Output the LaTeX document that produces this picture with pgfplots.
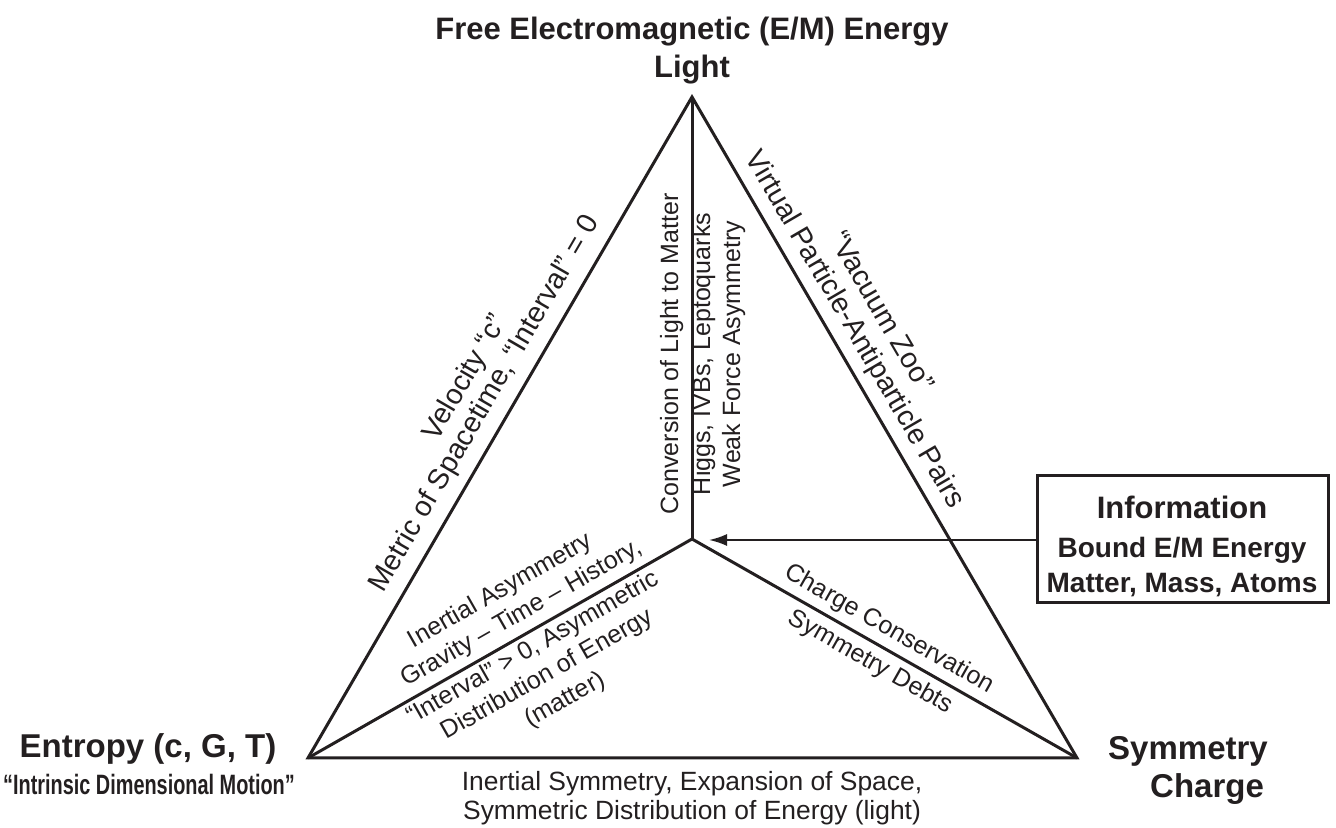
\documentclass[border=0pt]{standalone}
\usepackage{fontspec}
\setmainfont{Liberation Sans}
\usepackage{pgfplots}
\pgfplotsset{compat=1.18}
\usetikzlibrary{arrows.meta}
\definecolor{ink}{HTML}{231F20}
\newcommand{\fs}[1]{\fontsize{#1}{1.2\dimexpr#1\relax}\selectfont}
\begin{document}
\begin{tikzpicture}
\begin{axis}[width=668pt,height=414pt,scale only axis,
  xmin=0,xmax=1336,ymin=0,ymax=828,axis lines=none,ticks=none,clip=false]
% frame extent (invisible)
\addplot[draw=none] coordinates {(0,0) (1336,828)};
% outer triangle
\addplot[ink,line width=1.5pt,line join=miter,mark=none] coordinates {(308,70) (692,731) (1077,70) (308,70) (692,731)};
% inner lines
\addplot[ink,line width=1.5pt,mark=none] coordinates {(692,731) (692,289)};
\addplot[ink,line width=1.5pt,line join=miter,mark=none] coordinates {(308,70) (692,289) (1077,70)};
% box
\addplot[ink,line width=1.5pt,line join=miter,mark=none] coordinates {(1037,225) (1328,225) (1328,352) (1037,352) (1037,225) (1328,225)};
% arrow
\addplot[ink,line width=1pt,mark=none,-{Latex[length=9pt,width=6pt]}] coordinates {(1037,288) (709,288)};

\begin{scope}[every node/.style={text=ink,inner sep=0pt,text height=.75em,text depth=.25em}]
% title
\node[anchor=base,font=\bfseries\fs{15.5pt}] at (axis cs:692,788) {Free Electromagnetic (E/M) Energy};
\node[anchor=base,font=\bfseries\fs{15.5pt}] at (axis cs:692,750) {Light};
% left vertex
\node[anchor=base,font=\bfseries\fs{16.5pt}] at (axis cs:148,70) {Entropy (c, G, T)};
\node[anchor=base,font=\bfseries\fs{14pt}] at (axis cs:149,33) {\addfontfeature{FakeStretch=0.71}“Intrinsic Dimensional Motion”};
% right vertex
\node[anchor=base,font=\bfseries\fs{16.5pt}] at (axis cs:1188,68) {Symmetry};
\node[anchor=base,font=\bfseries\fs{16.5pt}] at (axis cs:1207,30) {Charge};
% box text
\node[anchor=base,font=\bfseries\fs{15.5pt}] at (axis cs:1182,309) {Information};
\node[anchor=base,font=\bfseries\fs{14pt}] at (axis cs:1182,270) {Bound E/M Energy};
\node[anchor=base,font=\bfseries\fs{14pt}] at (axis cs:1182,235) {Matter, Mass, Atoms};
% bottom
\node[anchor=base,font=\fs{13.2pt}] at (axis cs:692,37) {Inertial Symmetry, Expansion of Space,};
\node[anchor=base,font=\fs{13.2pt}] at (axis cs:692,8) {Symmetric Distribution of Energy (light)};
% left edge
\node[rotate=59.84,font=\fs{14.3pt}] at (axis cs:487.4,422.7) {Metric of Spacetime, “Interval” = 0};
\node[rotate=59.84,font=\fs{14.3pt}] at (axis cs:467.9,448.9) {Velocity “c”};
% right edge
\node[rotate=-59.74,font=\fs{14.3pt}] at (axis cs:851.9,496.6) {Virtual Particle-Antiparticle Pairs};
\node[rotate=-59.74,font=\fs{14.3pt}] at (axis cs:878.5,514.4) {“Vacuum Zoo”};
% vertical
\node[rotate=90,font=\fs{12.5pt}] at (axis cs:673,474) {Conversion of Light to Matter};
\node[rotate=90,font=\fs{12.5pt}] at (axis cs:705,474) {Higgs, IVBs, Leptoquarks};
\node[rotate=90,font=\fs{12.5pt}] at (axis cs:735,474) {Weak Force Asymmetry};
% left inner
\node[rotate=29.70,font=\fs{12.5pt}] at (axis cs:501.4,235.6) {Inertial Asymmetry};
\node[rotate=29.70,font=\fs{12.5pt}] at (axis cs:522.3,212.9) {Gravity – Time – History,};
\node[rotate=29.70,font=\fs{12.5pt}] at (axis cs:534.1,178.3) {“Interval” > 0, Asymmetric};
\node[rotate=29.70,font=\fs{12.5pt}] at (axis cs:548.1,151.7) {Distribution of Energy};
\node[rotate=29.70,font=\fs{12.5pt}] at (axis cs:566.0,126.2) {(matter)};
% right inner
\node[rotate=-29.52,font=\fs{12.5pt}] at (axis cs:888.4,197.4) {Charge Conservation};
\node[rotate=-29.52,font=\fs{12.5pt}] at (axis cs:869.7,164.3) {Symmetry Debts};
\end{scope}
\end{axis}
\end{tikzpicture}
\end{document}
